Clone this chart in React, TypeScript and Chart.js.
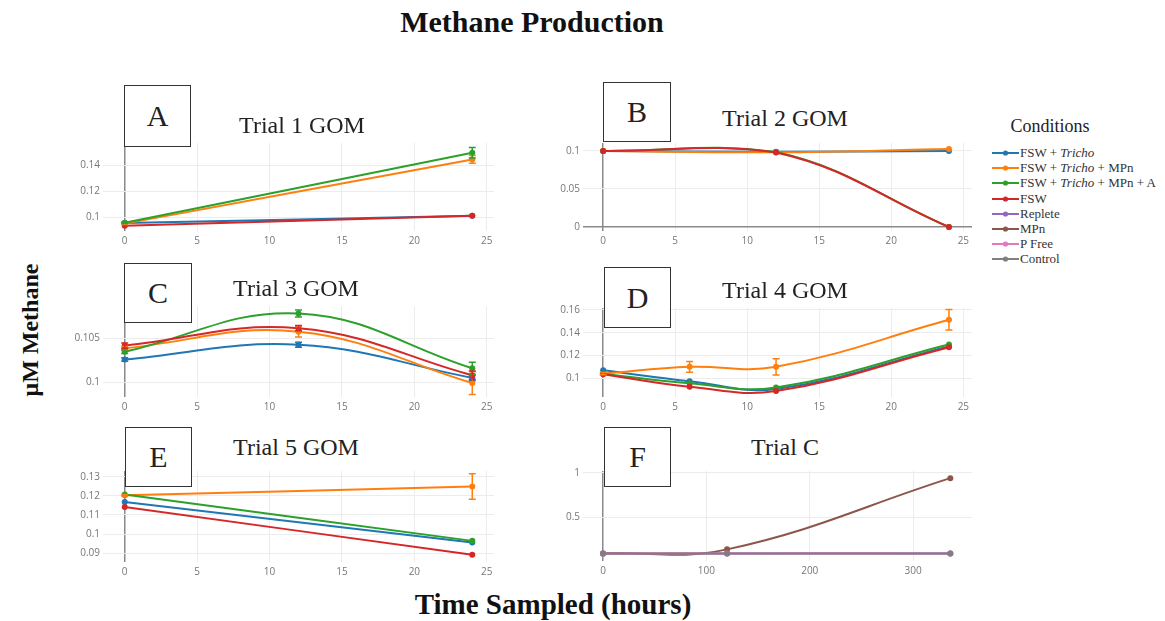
import React, { useEffect, useRef } from "react";
import { Chart, registerables } from "chart.js";
Chart.register(...registerables);

// ---- Conditions (legend) ----
const conditionNames = [
  "FSW + Tricho",
  "FSW + Tricho + MPn",
  "FSW + Tricho + MPn + A",
  "FSW",
  "Replete",
  "MPn",
  "P Free",
  "Control",
];
const conditionColors = ["#1f77b4", "#ff7f0e", "#2ca02c", "#d62728", "#9467bd", "#8c564b", "#e377c2", "#7f7f7f"];

// ---- Tick labels ----
const gomTicksX = [0, 5, 10, 15, 20, 25];
const trialCTicksX = [0, 100, 200, 300];
const t1TicksY = [0.1, 0.12, 0.14];
const t2TicksY = [0, 0.05, 0.1];
const t3TicksY = [0.1, 0.105];
const t4TicksY = [0.1, 0.12, 0.14, 0.16];
const t5TicksY = [0.09, 0.1, 0.11, 0.12, 0.13];
const tCTicksY = [0.5, 1];

// ---- Trial 1 GOM ----
const t1Hours = [0, 24];
const t1FswTricho = [0.0957, 0.1012];
const t1FswTrichoMPn = [0.0952, 0.1448];
const t1FswTrichoMPnA = [0.0958, 0.15];
const t1Fsw = [0.0935, 0.1013];
const t1ErrTrichoMPn = [0.0006, 0.003];
const t1ErrTrichoMPnA = [0.0006, 0.004];

// ---- Trial 2 GOM ----
const t2Hours = [0, 12, 24];
const t2FswTricho = [0.1, 0.0988, 0.1];
const t2FswTrichoMPn = [0.1, 0.0982, 0.1025];
const t2FswTrichoMPnA = [0.1, 0.0985, 0.0];
const t2Fsw = [0.1, 0.098, 0.0];

// ---- Trial 3 GOM ----
const t3Hours = [0, 12, 24];
const t3FswTricho = [0.1026, 0.1043, 0.1005];
const t3FswTrichoMPn = [0.1039, 0.1058, 0.0999];
const t3FswTrichoMPnA = [0.1035, 0.1079, 0.1016];
const t3Fsw = [0.1042, 0.1062, 0.1008];
const t3ErrTricho = [0.0002, 0.0003, 0.0003];
const t3ErrTrichoMPn = [0.0002, 0.0006, 0.0013];
const t3ErrTrichoMPnA = [0.0002, 0.0004, 0.0007];
const t3ErrFsw = [0.0003, 0.0003, 0.0005];

// ---- Trial 4 GOM ----
const t4Hours = [0, 6, 12, 24];
const t4FswTricho = [0.107, 0.0974, 0.0905, 0.128];
const t4FswTrichoMPn = [0.104, 0.11, 0.11, 0.1513];
const t4FswTrichoMPnA = [0.104, 0.0955, 0.0919, 0.1296];
const t4Fsw = [0.1035, 0.0925, 0.0887, 0.1272];
const t4ErrTrichoMPn = [0.001, 0.0048, 0.0072, 0.009];

// ---- Trial 5 GOM ----
const t5Hours = [0, 24];
const t5FswTricho = [0.1168, 0.0955];
const t5FswTrichoMPn = [0.1203, 0.1249];
const t5FswTrichoMPnA = [0.1208, 0.0964];
const t5Fsw = [0.1142, 0.0891];
const t5ErrTrichoMPn = [0.0004, 0.0067];

// ---- Trial C ----
const tCHours = [0, 120, 336];
const tCReplete = [0.1, 0.1, 0.1];
const tCMPn = [0.1, 0.145, 0.94];
const tCPFree = [0.097, 0.1, 0.1];
const tCControl = [0.1, 0.1, 0.1];

type Series = { cond: number; values: number[]; errors?: number[] };
type Panel = {
  letter: string;
  title: string;
  hours: number[];
  series: Series[];
  xRange: [number, number];
  xTicks: number[];
  yRange: [number, number];
  yTicks: number[];
  plot: { l: number; t: number; w: number; h: number };
  box: { l: number; t: number; w: number; h: number };
  titleAt: [number, number];
};

const panels: Panel[] = [
  {
    letter: "A",
    title: "Trial 1 GOM",
    hours: t1Hours,
    series: [
      { cond: 0, values: t1FswTricho },
      { cond: 1, values: t1FswTrichoMPn, errors: t1ErrTrichoMPn },
      { cond: 2, values: t1FswTrichoMPnA, errors: t1ErrTrichoMPnA },
      { cond: 3, values: t1Fsw },
    ],
    xRange: [-1.5, 25.5],
    xTicks: gomTicksX,
    yRange: [0.0895, 0.1575],
    yTicks: t1TicksY,
    plot: { l: 103, t: 142, w: 391, h: 89 },
    box: { l: 124, t: 85, w: 67, h: 62 },
    titleAt: [302, 125],
  },
  {
    letter: "B",
    title: "Trial 2 GOM",
    hours: t2Hours,
    series: [
      { cond: 0, values: t2FswTricho },
      { cond: 1, values: t2FswTrichoMPn },
      { cond: 2, values: t2FswTrichoMPnA },
      { cond: 3, values: t2Fsw },
    ],
    xRange: [-1.4, 25.6],
    xTicks: gomTicksX,
    yRange: [-0.0052, 0.1104],
    yTicks: t2TicksY,
    plot: { l: 583, t: 142, w: 389, h: 89 },
    box: { l: 603, t: 82, w: 68, h: 60 },
    titleAt: [785, 118],
  },
  {
    letter: "C",
    title: "Trial 3 GOM",
    hours: t3Hours,
    series: [
      { cond: 0, values: t3FswTricho, errors: t3ErrTricho },
      { cond: 1, values: t3FswTrichoMPn, errors: t3ErrTrichoMPn },
      { cond: 2, values: t3FswTrichoMPnA, errors: t3ErrTrichoMPnA },
      { cond: 3, values: t3Fsw, errors: t3ErrFsw },
    ],
    xRange: [-1.5, 25.5],
    xTicks: gomTicksX,
    yRange: [0.0983, 0.10875],
    yTicks: t3TicksY,
    plot: { l: 103, t: 305, w: 391, h: 92 },
    box: { l: 124, t: 263, w: 68, h: 60 },
    titleAt: [296, 288],
  },
  {
    letter: "D",
    title: "Trial 4 GOM",
    hours: t4Hours,
    series: [
      { cond: 0, values: t4FswTricho },
      { cond: 1, values: t4FswTrichoMPn, errors: t4ErrTrichoMPn },
      { cond: 2, values: t4FswTrichoMPnA },
      { cond: 3, values: t4Fsw },
    ],
    xRange: [-1.4, 25.6],
    xTicks: gomTicksX,
    yRange: [0.0835, 0.1617],
    yTicks: t4TicksY,
    plot: { l: 583, t: 307, w: 389, h: 90 },
    box: { l: 604, t: 267, w: 67, h: 61 },
    titleAt: [785, 290],
  },
  {
    letter: "E",
    title: "Trial 5 GOM",
    hours: t5Hours,
    series: [
      { cond: 0, values: t5FswTricho },
      { cond: 1, values: t5FswTrichoMPn, errors: t5ErrTrichoMPn },
      { cond: 2, values: t5FswTrichoMPnA },
      { cond: 3, values: t5Fsw },
    ],
    xRange: [-1.5, 25.5],
    xTicks: gomTicksX,
    yRange: [0.0853, 0.1331],
    yTicks: t5TicksY,
    plot: { l: 103, t: 470, w: 391, h: 92 },
    box: { l: 125, t: 427, w: 67, h: 60 },
    titleAt: [296, 447],
  },
  {
    letter: "F",
    title: "Trial C",
    hours: tCHours,
    series: [
      { cond: 4, values: tCReplete },
      { cond: 5, values: tCMPn },
      { cond: 6, values: tCPFree },
      { cond: 7, values: tCControl },
    ],
    xRange: [-19.4, 357],
    xTicks: trialCTicksX,
    yRange: [0.015, 1.02],
    yTicks: tCTicksY,
    plot: { l: 583, t: 470, w: 389, h: 91 },
    box: { l: 604, t: 427, w: 67, h: 60 },
    titleAt: [785, 447],
  },
];

const PAD_L = 45;
const PAD_T = 8;
const PAD_R = 12;
const PAD_B = 22;

const errorBarPlugin = {
  id: "errorBars",
  afterDatasetsDraw(chart: any) {
    const ctx = chart.ctx;
    const ys = chart.scales.y;
    chart.data.datasets.forEach((ds: any, i: number) => {
      const errs: number[] | undefined = ds.errors;
      if (!errs) return;
      const meta = chart.getDatasetMeta(i);
      ctx.save();
      ctx.strokeStyle = ds.borderColor;
      ctx.lineWidth = 1.5;
      ds.data.forEach((pt: any, j: number) => {
        const e = errs[j];
        if (!e) return;
        const el = meta.data[j];
        const x = el.x;
        const yTop = ys.getPixelForValue(pt.y + e);
        const yBot = ys.getPixelForValue(pt.y - e);
        ctx.beginPath();
        ctx.moveTo(x, yTop);
        ctx.lineTo(x, yBot);
        ctx.moveTo(x - 3.5, yTop);
        ctx.lineTo(x + 3.5, yTop);
        ctx.moveTo(x - 3.5, yBot);
        ctx.lineTo(x + 3.5, yBot);
        ctx.stroke();
      });
      ctx.restore();
    });
  },
};

const fmt = (v: number) => String(Number(v.toFixed(4)));

function PanelChart({ panel }: { panel: Panel }) {
  const ref = useRef<HTMLCanvasElement>(null);
  const cw = panel.plot.w + PAD_L + PAD_R;
  const ch = panel.plot.h + PAD_T + PAD_B;
  useEffect(() => {
    if (!ref.current) return;
    const n = panel.series.length;
    const datasets = panel.series.map((s, i) => ({
      label: conditionNames[s.cond],
      data: panel.hours.map((h, j) => ({ x: h, y: s.values[j] })),
      errors: s.errors,
      borderColor: conditionColors[s.cond],
      backgroundColor: conditionColors[s.cond],
      pointBackgroundColor: conditionColors[s.cond],
      pointBorderWidth: 0,
      pointRadius: 3,
      borderWidth: 2,
      tension: 0.4,
      order: n - i,
      clip: 4,
    }));
    const gridColor = (c: any) => (c.tick && c.tick.value === 0 ? "#8a8a8a" : "#ececec");
    const gridWidth = (c: any) => (c.tick && c.tick.value === 0 ? 1.5 : 1);
    const chart = new Chart(ref.current, {
      type: "line",
      data: { datasets } as any,
      options: {
        animation: false,
        responsive: false,
        maintainAspectRatio: false,
        layout: { padding: { top: PAD_T, right: PAD_R, left: 0, bottom: 0 } },
        plugins: { legend: { display: false }, tooltip: { enabled: false }, title: { display: false } },
        scales: {
          x: {
            type: "linear",
            min: panel.xRange[0],
            max: panel.xRange[1],
            afterBuildTicks: (s: any) => {
              s.ticks = panel.xTicks.map((v) => ({ value: v }));
            },
            afterFit: (s: any) => {
              s.height = PAD_B;
            },
            ticks: {
              font: { family: "'Open Sans', sans-serif", size: 10 },
              color: "#777",
              padding: 4,
              maxRotation: 0,
              autoSkip: false,
              callback: (v: any) => fmt(Number(v)),
            },
            grid: { color: gridColor, lineWidth: gridWidth, drawTicks: false },
            border: { display: false },
          },
          y: {
            type: "linear",
            min: panel.yRange[0],
            max: panel.yRange[1],
            afterBuildTicks: (s: any) => {
              s.ticks = panel.yTicks.map((v) => ({ value: v }));
            },
            afterFit: (s: any) => {
              s.width = PAD_L;
            },
            ticks: {
              font: { family: "'Open Sans', sans-serif", size: 10 },
              color: "#777",
              padding: 3,
              autoSkip: false,
              callback: (v: any) => fmt(Number(v)),
            },
            grid: { color: gridColor, lineWidth: gridWidth, drawTicks: false },
            border: { display: false },
          },
        },
      } as any,
      plugins: [errorBarPlugin],
    });
    return () => chart.destroy();
  }, [panel]);
  return (
    <canvas
      ref={ref}
      width={cw}
      height={ch}
      style={{ position: "absolute", left: panel.plot.l - PAD_L, top: panel.plot.t - PAD_T, width: cw, height: ch }}
    />
  );
}

function renderName(name: string) {
  const parts = name.split("Tricho");
  const out: React.ReactNode[] = [];
  parts.forEach((p, i) => {
    if (i > 0) out.push(<i key={"i" + i}>Tricho</i>);
    out.push(<span key={"s" + i}>{p}</span>);
  });
  return out;
}

const serif = "'Liberation Serif', 'Times New Roman', serif";

export default function App() {
  return (
    <div style={{ position: "absolute", left: 0, top: 0, width: 1165, height: 621, background: "#fff", overflow: "hidden" }}>
      <div
        style={{
          position: "absolute",
          left: 532,
          top: 22,
          transform: "translate(-50%, -50%)",
          font: `bold 30px ${serif}`,
          lineHeight: 1,
          whiteSpace: "nowrap",
          color: "#111",
        }}
      >
        Methane Production
      </div>
      <div
        style={{
          position: "absolute",
          left: 30,
          top: 330,
          transform: "translate(-50%, -50%) rotate(-90deg)",
          font: `bold 24px ${serif}`,
          lineHeight: 1,
          whiteSpace: "nowrap",
          color: "#111",
        }}
      >
        μM Methane
      </div>
      <div
        style={{
          position: "absolute",
          left: 553,
          top: 604,
          transform: "translate(-50%, -50%)",
          font: `bold 29px ${serif}`,
          lineHeight: 1,
          whiteSpace: "nowrap",
          color: "#111",
        }}
      >
        Time Sampled (hours)
      </div>

      {panels.map((p) => (
        <React.Fragment key={p.letter}>
          <PanelChart panel={p} />
          <div
            style={{
              position: "absolute",
              left: p.titleAt[0],
              top: p.titleAt[1],
              transform: "translate(-50%, -50%)",
              font: `24px ${serif}`,
              lineHeight: 1,
              whiteSpace: "nowrap",
              color: "#222",
            }}
          >
            {p.title}
          </div>
          <div
            style={{
              position: "absolute",
              left: p.box.l,
              top: p.box.t,
              width: p.box.w,
              height: p.box.h,
              boxSizing: "border-box",
              border: "1.5px solid #333",
              background: "#fff",
              display: "flex",
              alignItems: "center",
              justifyContent: "center",
              font: `30px ${serif}`,
              color: "#222",
            }}
          >
            {p.letter}
          </div>
        </React.Fragment>
      ))}

      <div
        style={{
          position: "absolute",
          left: 1050,
          top: 126,
          transform: "translate(-50%, -50%)",
          font: `18px ${serif}`,
          lineHeight: 1,
          whiteSpace: "nowrap",
          color: "#222",
        }}
      >
        Conditions
      </div>
      {conditionNames.map((name, i) => (
        <div
          key={name}
          style={{
            position: "absolute",
            left: 992,
            top: 153 + i * 15.2 - 8,
            height: 16,
            display: "flex",
            alignItems: "center",
            whiteSpace: "nowrap",
            font: `13px ${serif}`,
            color: "#333",
          }}
        >
          <svg width={27} height={10} style={{ display: "block", marginRight: 1 }}>
            <line x1={0} y1={5} x2={27} y2={5} stroke={conditionColors[i]} strokeWidth={2} />
            <circle cx={13.5} cy={5} r={2.6} fill={conditionColors[i]} />
          </svg>
          <span>{renderName(name)}</span>
        </div>
      ))}
    </div>
  );
}
